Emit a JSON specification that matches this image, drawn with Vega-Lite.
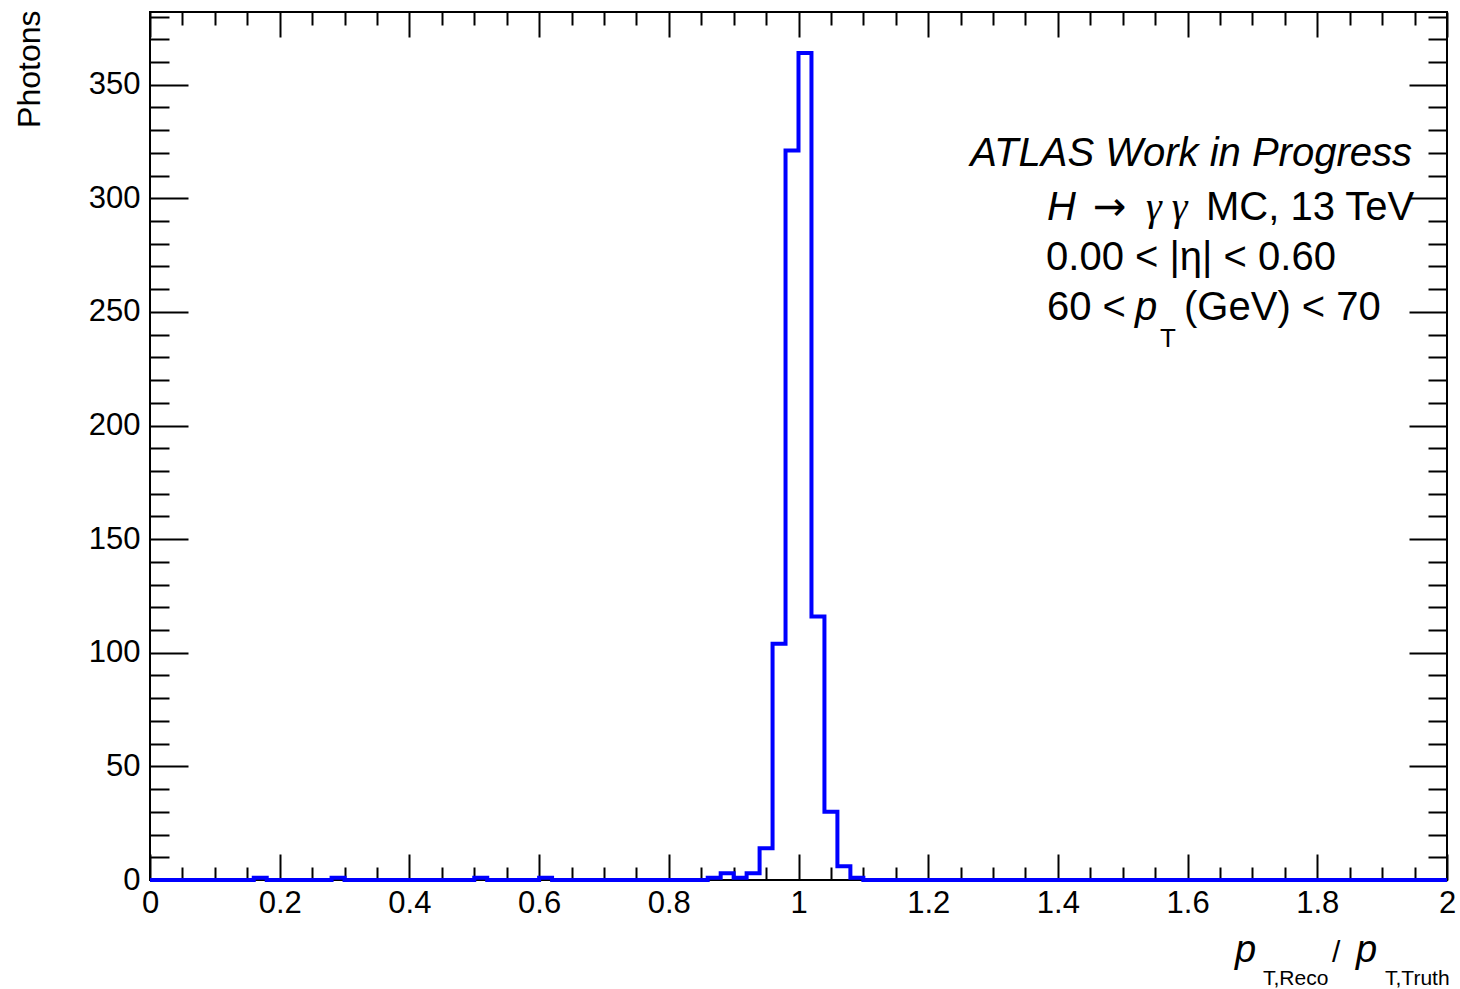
{
  "$schema": "https://vega.github.io/schema/vega-lite/v6.json",
  "width": 1297,
  "height": 868,
  "autosize": {"type": "none"},
  "padding": {"left": 150, "top": 12, "right": 13, "bottom": 109},
  "background": "white",
  "config": {
    "view": {"stroke": "black", "strokeWidth": 2},
    "axis": {"domain": false, "grid": false, "labelFont": "Liberation Sans", "labelFontSize": 31, "labelColor": "black", "tickColor": "black", "tickWidth": 2, "titleFont": "Liberation Sans", "labelOverlap": false, "labelFlush": false, "labelBound": false},
    "text": {"font": "Liberation Sans", "color": "black", "baseline": "alphabetic"}
  },
  "datasets": {
    "hist": [
      {"ratio": 0.00, "photons": 0}, {"ratio": 0.02, "photons": 0}, {"ratio": 0.04, "photons": 0}, {"ratio": 0.06, "photons": 0}, {"ratio": 0.08, "photons": 0},
      {"ratio": 0.10, "photons": 0}, {"ratio": 0.12, "photons": 0}, {"ratio": 0.14, "photons": 0}, {"ratio": 0.16, "photons": 1}, {"ratio": 0.18, "photons": 0},
      {"ratio": 0.20, "photons": 0}, {"ratio": 0.22, "photons": 0}, {"ratio": 0.24, "photons": 0}, {"ratio": 0.26, "photons": 0}, {"ratio": 0.28, "photons": 1},
      {"ratio": 0.30, "photons": 0}, {"ratio": 0.32, "photons": 0}, {"ratio": 0.34, "photons": 0}, {"ratio": 0.36, "photons": 0}, {"ratio": 0.38, "photons": 0},
      {"ratio": 0.40, "photons": 0}, {"ratio": 0.42, "photons": 0}, {"ratio": 0.44, "photons": 0}, {"ratio": 0.46, "photons": 0}, {"ratio": 0.48, "photons": 0},
      {"ratio": 0.50, "photons": 1}, {"ratio": 0.52, "photons": 0}, {"ratio": 0.54, "photons": 0}, {"ratio": 0.56, "photons": 0}, {"ratio": 0.58, "photons": 0},
      {"ratio": 0.60, "photons": 1}, {"ratio": 0.62, "photons": 0}, {"ratio": 0.64, "photons": 0}, {"ratio": 0.66, "photons": 0}, {"ratio": 0.68, "photons": 0},
      {"ratio": 0.70, "photons": 0}, {"ratio": 0.72, "photons": 0}, {"ratio": 0.74, "photons": 0}, {"ratio": 0.76, "photons": 0}, {"ratio": 0.78, "photons": 0},
      {"ratio": 0.80, "photons": 0}, {"ratio": 0.82, "photons": 0}, {"ratio": 0.84, "photons": 0}, {"ratio": 0.86, "photons": 1}, {"ratio": 0.88, "photons": 3},
      {"ratio": 0.90, "photons": 1}, {"ratio": 0.92, "photons": 3}, {"ratio": 0.94, "photons": 14}, {"ratio": 0.96, "photons": 104}, {"ratio": 0.98, "photons": 321},
      {"ratio": 1.00, "photons": 364}, {"ratio": 1.02, "photons": 116}, {"ratio": 1.04, "photons": 30}, {"ratio": 1.06, "photons": 6}, {"ratio": 1.08, "photons": 1},
      {"ratio": 1.10, "photons": 0}, {"ratio": 1.12, "photons": 0}, {"ratio": 1.14, "photons": 0}, {"ratio": 1.16, "photons": 0}, {"ratio": 1.18, "photons": 0},
      {"ratio": 1.20, "photons": 0}, {"ratio": 1.22, "photons": 0}, {"ratio": 1.24, "photons": 0}, {"ratio": 1.26, "photons": 0}, {"ratio": 1.28, "photons": 0},
      {"ratio": 1.30, "photons": 0}, {"ratio": 1.32, "photons": 0}, {"ratio": 1.34, "photons": 0}, {"ratio": 1.36, "photons": 0}, {"ratio": 1.38, "photons": 0},
      {"ratio": 1.40, "photons": 0}, {"ratio": 1.42, "photons": 0}, {"ratio": 1.44, "photons": 0}, {"ratio": 1.46, "photons": 0}, {"ratio": 1.48, "photons": 0},
      {"ratio": 1.50, "photons": 0}, {"ratio": 1.52, "photons": 0}, {"ratio": 1.54, "photons": 0}, {"ratio": 1.56, "photons": 0}, {"ratio": 1.58, "photons": 0},
      {"ratio": 1.60, "photons": 0}, {"ratio": 1.62, "photons": 0}, {"ratio": 1.64, "photons": 0}, {"ratio": 1.66, "photons": 0}, {"ratio": 1.68, "photons": 0},
      {"ratio": 1.70, "photons": 0}, {"ratio": 1.72, "photons": 0}, {"ratio": 1.74, "photons": 0}, {"ratio": 1.76, "photons": 0}, {"ratio": 1.78, "photons": 0},
      {"ratio": 1.80, "photons": 0}, {"ratio": 1.82, "photons": 0}, {"ratio": 1.84, "photons": 0}, {"ratio": 1.86, "photons": 0}, {"ratio": 1.88, "photons": 0},
      {"ratio": 1.90, "photons": 0}, {"ratio": 1.92, "photons": 0}, {"ratio": 1.94, "photons": 0}, {"ratio": 1.96, "photons": 0}, {"ratio": 1.98, "photons": 0},
      {"ratio": 2.00, "photons": 0}
    ]
  },
  "resolve": {"axis": {"x": "independent", "y": "independent"}},
  "layer": [
    {
      "data": {"name": "hist"},
      "mark": {"type": "line", "interpolate": "step-after", "color": "#0000ff", "strokeWidth": 4, "strokeJoin": "miter"},
      "encoding": {
        "x": {"field": "ratio", "type": "quantitative", "scale": {"domain": [0, 2], "nice": false, "zero": false},
              "axis": {"orient": "bottom", "values": [0, 0.2, 0.4, 0.6, 0.8, 1, 1.2, 1.4, 1.6, 1.8, 2], "format": "~g", "ticks": false, "labelPadding": 8, "title": null}},
        "y": {"field": "photons", "type": "quantitative", "scale": {"domain": [0, 382], "nice": false},
              "axis": {"orient": "left", "values": [0, 50, 100, 150, 200, 250, 300, 350], "format": "d", "ticks": false, "labelPadding": 10,
                       "title": "Photons", "titleFontSize": 32, "titleFontWeight": "normal", "titleColor": "black",
                       "titleX": -121, "titleY": -2, "titleAngle": -90, "titleAlign": "right", "titleBaseline": "middle"}}
      }
    },
    {
      "data": {"values": [{"label": "ATLAS Work in Progress"}]},
      "mark": {"type": "text", "fontStyle": "italic", "fontSize": 40, "align": "right"},
      "encoding": {
        "text": {"field": "label"},
        "x": {"datum": 1.946, "type": "quantitative",
              "axis": {"orient": "bottom", "values": [0, 0.2, 0.4, 0.6, 0.8, 1, 1.2, 1.4, 1.6, 1.8, 2], "labels": false, "tickSize": -26, "title": null}},
        "y": {"datum": 314.2, "type": "quantitative",
              "axis": {"orient": "left", "values": [0, 50, 100, 150, 200, 250, 300, 350], "labels": false, "tickSize": -38, "title": null}}
      }
    },
    {
      "data": {"values": [{"label": "H"}]},
      "mark": {"type": "text", "fontStyle": "italic", "fontSize": 40, "align": "left"},
      "encoding": {
        "text": {"field": "label"},
        "x": {"datum": 1.3832, "type": "quantitative",
              "axis": {"orient": "bottom", "values": [0.05, 0.1, 0.15, 0.25, 0.3, 0.35, 0.45, 0.5, 0.55, 0.65, 0.7, 0.75, 0.85, 0.9, 0.95, 1.05, 1.1, 1.15, 1.25, 1.3, 1.35, 1.45, 1.5, 1.55, 1.65, 1.7, 1.75, 1.85, 1.9, 1.95], "labels": false, "tickSize": -13, "title": null}},
        "y": {"datum": 290.5, "type": "quantitative",
              "axis": {"orient": "left", "values": [10, 20, 30, 40, 60, 70, 80, 90, 110, 120, 130, 140, 160, 170, 180, 190, 210, 220, 230, 240, 260, 270, 280, 290, 310, 320, 330, 340, 360, 370, 380], "labels": false, "tickSize": -19, "title": null}}
      }
    },
    {
      "data": {"values": [{"label": "→"}]},
      "mark": {"type": "text", "fontSize": 40, "font": "DejaVu Sans", "align": "left"},
      "encoding": {
        "text": {"field": "label"},
        "x": {"datum": 1.4541, "type": "quantitative", "axis": null},
        "y": {"datum": 290.5, "type": "quantitative", "axis": null}
      }
    },
    {
      "data": {"values": [{"label": "γ γ"}]},
      "mark": {"type": "text", "fontSize": 40, "font": "Liberation Serif", "fontStyle": "italic", "align": "left"},
      "encoding": {
        "text": {"field": "label"},
        "x": {"datum": 1.5359, "type": "quantitative", "axis": null},
        "y": {"datum": 290.5, "type": "quantitative", "axis": null}
      }
    },
    {
      "data": {"values": [{"label": "MC, 13 TeV"}]},
      "mark": {"type": "text", "fontSize": 40, "align": "left"},
      "encoding": {
        "text": {"field": "label"},
        "x": {"datum": 1.6284, "type": "quantitative",
              "axis": {"orient": "top", "values": [0, 0.2, 0.4, 0.6, 0.8, 1, 1.2, 1.4, 1.6, 1.8, 2], "labels": false, "tickSize": -25, "title": null}},
        "y": {"datum": 290.5, "type": "quantitative",
              "axis": {"orient": "right", "values": [0, 50, 100, 150, 200, 250, 300, 350], "labels": false, "tickSize": -38, "title": null}}
      }
    },
    {
      "data": {"values": [{"label": "0.00 < |η| < 0.60"}]},
      "mark": {"type": "text", "fontSize": 40, "align": "left"},
      "encoding": {
        "text": {"field": "label"},
        "x": {"datum": 1.3817, "type": "quantitative",
              "axis": {"orient": "top", "values": [0.05, 0.1, 0.15, 0.25, 0.3, 0.35, 0.45, 0.5, 0.55, 0.65, 0.7, 0.75, 0.85, 0.9, 0.95, 1.05, 1.1, 1.15, 1.25, 1.3, 1.35, 1.45, 1.5, 1.55, 1.65, 1.7, 1.75, 1.85, 1.9, 1.95], "labels": false, "tickSize": -13, "title": null}},
        "y": {"datum": 268.5, "type": "quantitative",
              "axis": {"orient": "right", "values": [10, 20, 30, 40, 60, 70, 80, 90, 110, 120, 130, 140, 160, 170, 180, 190, 210, 220, 230, 240, 260, 270, 280, 290, 310, 320, 330, 340, 360, 370, 380], "labels": false, "tickSize": -19, "title": null}}
      }
    },
    {
      "data": {"values": [{"label": "60 <"}]},
      "mark": {"type": "text", "fontSize": 40, "align": "left"},
      "encoding": {
        "text": {"field": "label"},
        "x": {"datum": 1.3832, "type": "quantitative", "axis": null},
        "y": {"datum": 246.5, "type": "quantitative", "axis": null}
      }
    },
    {
      "data": {"values": [{"label": "p"}]},
      "mark": {"type": "text", "fontSize": 40, "fontStyle": "italic", "align": "left"},
      "encoding": {
        "text": {"field": "label"},
        "x": {"datum": 1.5189, "type": "quantitative", "axis": null},
        "y": {"datum": 246.5, "type": "quantitative", "axis": null}
      }
    },
    {
      "data": {"values": [{"label": "T"}]},
      "mark": {"type": "text", "fontSize": 26, "align": "left"},
      "encoding": {
        "text": {"field": "label"},
        "x": {"datum": 1.5575, "type": "quantitative", "axis": null},
        "y": {"datum": 234.6, "type": "quantitative", "axis": null}
      }
    },
    {
      "data": {"values": [{"label": "(GeV) < 70"}]},
      "mark": {"type": "text", "fontSize": 40, "align": "left"},
      "encoding": {
        "text": {"field": "label"},
        "x": {"datum": 1.5945, "type": "quantitative", "axis": null},
        "y": {"datum": 246.5, "type": "quantitative", "axis": null}
      }
    },
    {
      "data": {"values": [{"label": "p"}]},
      "mark": {"type": "text", "fontSize": 38, "fontStyle": "italic", "align": "left"},
      "encoding": {
        "text": {"field": "label"},
        "x": {"datum": 1.6731, "type": "quantitative", "axis": null},
        "y": {"datum": -36.1, "type": "quantitative", "axis": null}
      }
    },
    {
      "data": {"values": [{"label": "T,Reco"}]},
      "mark": {"type": "text", "fontSize": 21, "align": "left"},
      "encoding": {
        "text": {"field": "label"},
        "x": {"datum": 1.7163, "type": "quantitative", "axis": null},
        "y": {"datum": -46.2, "type": "quantitative", "axis": null}
      }
    },
    {
      "data": {"values": [{"label": "/"}]},
      "mark": {"type": "text", "fontSize": 30, "align": "left"},
      "encoding": {
        "text": {"field": "label"},
        "x": {"datum": 1.8227, "type": "quantitative", "axis": null},
        "y": {"datum": -36.1, "type": "quantitative", "axis": null}
      }
    },
    {
      "data": {"values": [{"label": "p"}]},
      "mark": {"type": "text", "fontSize": 38, "fontStyle": "italic", "align": "left"},
      "encoding": {
        "text": {"field": "label"},
        "x": {"datum": 1.8597, "type": "quantitative", "axis": null},
        "y": {"datum": -36.1, "type": "quantitative", "axis": null}
      }
    },
    {
      "data": {"values": [{"label": "T,Truth"}]},
      "mark": {"type": "text", "fontSize": 21, "align": "left"},
      "encoding": {
        "text": {"field": "label"},
        "x": {"datum": 1.9044, "type": "quantitative", "axis": null},
        "y": {"datum": -46.2, "type": "quantitative", "axis": null}
      }
    }
  ]
}
